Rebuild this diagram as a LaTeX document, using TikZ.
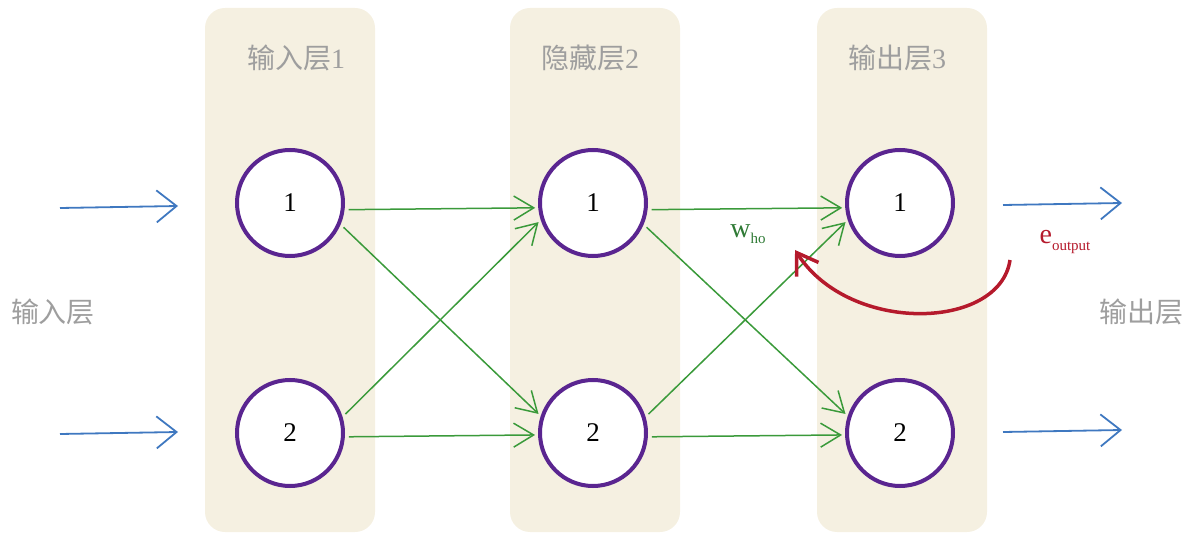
\documentclass[tikz,border=0pt]{standalone}
\usepackage{xcolor}
\usepackage{fontspec}
\setmainfont{Liberation Serif}
\newfontfamily\cjk{Noto Sans CJK SC}
\usetikzlibrary{positioning,arrows.meta}

\definecolor{panelbg}{HTML}{F5F0E1}
\definecolor{neuron}{HTML}{5A2590}
\definecolor{inblue}{HTML}{3F78C0}
\definecolor{wgreen}{HTML}{3A9A3A}
\definecolor{wtext}{HTML}{2F7A35}
\definecolor{errred}{HTML}{B51A2C}
\definecolor{labgray}{HTML}{9E9E9E}

\newcommand{\smallsub}[1]{\raisebox{-6pt}{\fontsize{15}{16}\selectfont #1}}

\tikzset{
	panelbox/.style={fill=panelbg, rounded corners=20pt, minimum width=170pt, minimum height=524pt, inner sep=0pt},
	neuronnode/.style={circle, draw=neuron, fill=white, line width=4pt, minimum size=106pt, inner sep=0pt, font=\fontsize{27}{30}\selectfont},
	layerlab/.style={text=labgray, font=\fontsize{28}{32}\selectfont, inner sep=0pt},
	ioarrow/.style={draw=inblue, line width=1.8pt, -{Straight Barb[length=20pt, width=32pt, line width=1.8pt]}},
	wedge/.style={draw=wgreen, line width=1.5pt, shorten <=4pt, shorten >=3pt, -{Straight Barb[length=20pt, width=24pt, line width=1.5pt]}},
}

\begin{document}
\begin{tikzpicture}[x=1pt, y=-1pt]
		\useasboundingbox (0,0) rectangle (1200,540);
		% layer panels
		\node[panelbox] (P1) at (290,270) {};
		\node[panelbox] (P2) at (595,270) {};
		\node[panelbox] (P3) at (902,270) {};
		\node[layerlab] (t1) at (296,58) {{\cjk 输入层}1};
		\node[layerlab] (t2) at (590,58) {{\cjk 隐藏层}2};
		\node[layerlab] (t3) at (897,58) {{\cjk 输出层}3};
		\node[layerlab] (inlab) at (53,312) {\cjk 输入层};
		\node[layerlab] (outlab) at (1141,312) {\cjk 输出层};
		% neurons
		\node[neuronnode] (i1) at (290,203) {1};
		\node[neuronnode] (i2) at (290,433) {2};
		\node[neuronnode] (h1) at (593,203) {1};
		\node[neuronnode] (h2) at (593,433) {2};
		\node[neuronnode] (o1) at (900,203) {1};
		\node[neuronnode] (o2) at (900,433) {2};
		% inputs and outputs
		\coordinate (x1) at (60,208);
		\coordinate (x2) at (60,434);
		\coordinate (y1) at (1122,203);
		\coordinate (y2) at (1122,430);
		\draw[ioarrow] (x1) -- (178,206);
		\draw[ioarrow] (x2) -- (178,432);
		\draw[ioarrow] (1003,205) -- (y1);
		\draw[ioarrow] (1003,432) -- (y2);
		% weights
		\draw[wedge] (i1.-7) -- (h1.185);
		\draw[wedge] (i1.-23) -- (h2.162);
		\draw[wedge] (i2.17) -- (h1.198);
		\draw[wedge] (i2.-4) -- (h2.182);
		\draw[wedge] (h1.-7) -- (o1.185);
		\draw[wedge] (h1.-23) -- (o2.162);
		\draw[wedge] (h2.17) -- (o1.198);
		\draw[wedge] (h2.-4) -- (o2.182);
		\node[text=wtext, font=\fontsize{28}{30}\selectfont] (who) at (748,234) {w\smallsub{ho}};
		\node[text=errred, font=\fontsize{28}{30}\selectfont] (eout) at (1065,242) {e\smallsub{output}};
		% error back to the weight
		\coordinate (es) at (1010,260);
		\coordinate (ee) at (795,250);
		\draw[draw=errred, line width=3.5pt, -{Straight Barb[length=20pt, width=26pt, line width=3.5pt]}] (es) .. controls (1000,330) and (850,335) .. (ee);
	\end{tikzpicture}
\end{document}
